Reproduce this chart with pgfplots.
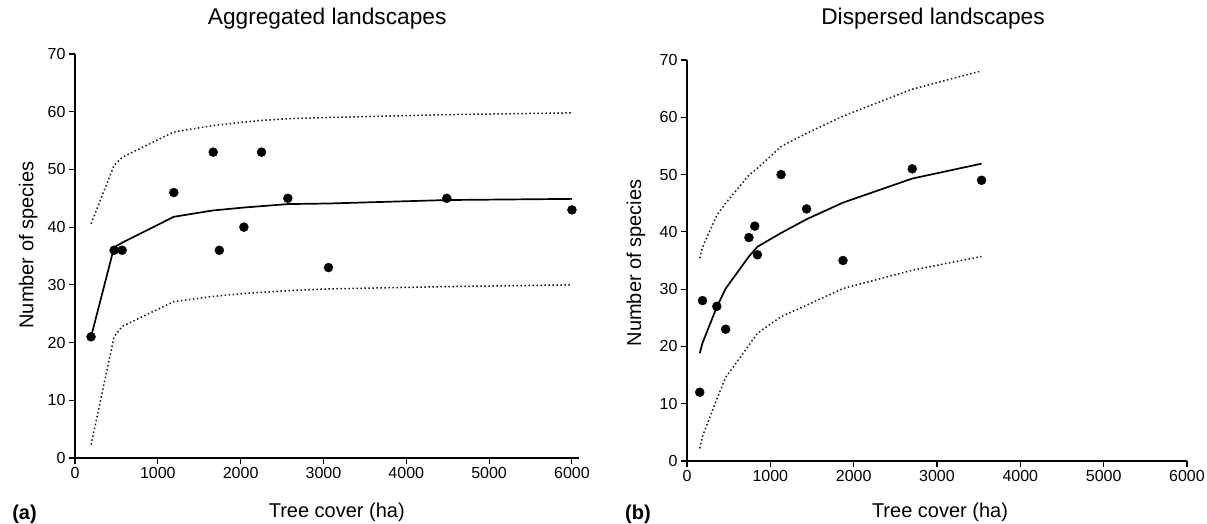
\documentclass[border=0pt]{standalone}
\usepackage{fontspec}
\setmainfont{Liberation Sans}
\usepackage{pgfplots}
\pgfplotsset{compat=1.18}
\pgfplotsset{
  myaxis/.style={
    clip=false,
    axis x line*=bottom, axis y line*=left,
    axis line style={-, line width=1.1pt},
    tick align=outside, major tick length=6pt,
    tick style={line width=1.1pt, black},
    xtick={0,1000,...,6000}, ytick={0,10,...,70},
    xmin=0, ymin=0, ymax=70,
    ticklabel style={font=\fontsize{16}{19}\selectfont},
    /pgf/number format/assume math mode=true,
    /pgf/number format/1000 sep={},
    scaled x ticks=false,
    label style={font=\fontsize{20}{24}\selectfont},
    title style={font=\fontsize{22.7}{27}\selectfont, anchor=center},
  },
  fitline/.style={black, line width=1.7pt, mark=none},
  ciline/.style={black!90, line width=1.5pt, dash pattern=on 1.5pt off 2.5pt, mark=none},
  pts/.style={only marks, mark=*, mark size=4.5pt, black},
}
\begin{document}
\begin{tikzpicture}
\useasboundingbox (0pt,0pt) rectangle (1207pt,-524pt);
% (a) Aggregated
\begin{axis}[myaxis, anchor=origin, at={(75pt,-458pt)},
  x=0.08283pt, y=5.771pt, xmax=6090,
  title={Aggregated landscapes},
  title style={at={(rel axis cs:0.5,1.072)}},
  xlabel={Tree cover (ha)},
  xlabel style={at={(rel axis cs:0.519,-0.134)}, anchor=center},
  ylabel={Number of species},
  ylabel style={at={(rel axis cs:-0.093,0.527)}, anchor=center},
]
\addplot[ciline] coordinates {(194,40.6) (472,50.7) (569,52.1) (1193,56.5) (1669,57.6) (2039,58.2) (2252,58.5) (2570,58.8) (3061,59.0) (4489,59.5) (6000,59.8)};
\addplot[ciline] coordinates {(194,2.3) (472,21.0) (569,22.8) (1193,27.1) (1669,28.0) (2039,28.5) (2570,29.0) (3061,29.3) (4489,29.7) (6000,30.0)};
\addplot[fitline] coordinates {(194,21) (472,36.5) (569,37.3) (1193,41.8) (1669,42.9) (2039,43.4) (2570,44.0) (3061,44.1) (4489,44.7) (6000,44.9)};
\addplot[pts] coordinates {(194,21) (472,36) (569,36) (1193,46) (1669,53) (1743,36) (2039,40) (2252,53) (2570,45) (3061,33) (4489,45) (6000,43)};
\node[font=\fontsize{20}{24}\selectfont\bfseries] at (rel axis cs:-0.100,-0.139) {(a)};
\end{axis}
% (b) Dispersed
\begin{axis}[myaxis, anchor=origin, at={(687pt,-461pt)},
  x=0.08333pt, y=5.729pt, xmax=6000,
  title={Dispersed landscapes},
  title style={at={(rel axis cs:0.492,1.087)}},
  xlabel={Tree cover (ha)},
  xlabel style={at={(rel axis cs:0.506,-0.127)}, anchor=center},
  ylabel={Number of species},
  ylabel style={at={(rel axis cs:-0.102,0.494)}, anchor=center},
]
\addplot[ciline] coordinates {(153,35.4) (186,37.3) (358,42.9) (464,45.0) (743,49.9) (845,51.1) (1129,54.9) (1435,57.2) (1872,60.2) (2703,64.9) (3535,68.1)};
\addplot[ciline] coordinates {(153,2.2) (186,4.3) (358,10.8) (464,14.6) (743,20.2) (845,22.3) (1129,25.2) (1435,27.2) (1872,30.1) (2703,33.3) (3535,35.7)};
\addplot[fitline] coordinates {(153,18.8) (186,20.6) (358,26.9) (464,30.1) (743,35.7) (845,37.4) (1129,39.8) (1435,42.2) (1872,45.1) (2703,49.3) (3535,51.9)};
\addplot[pts] coordinates {(153,12) (186,28) (358,27) (464,23) (743,39) (813,41) (845,36) (1129,50) (1435,44) (1872,35) (2703,51) (3535,49)};
\node[font=\fontsize{20}{24}\selectfont\bfseries] at (rel axis cs:-0.098,-0.132) {(b)};
\end{axis}
\end{tikzpicture}
\end{document}
